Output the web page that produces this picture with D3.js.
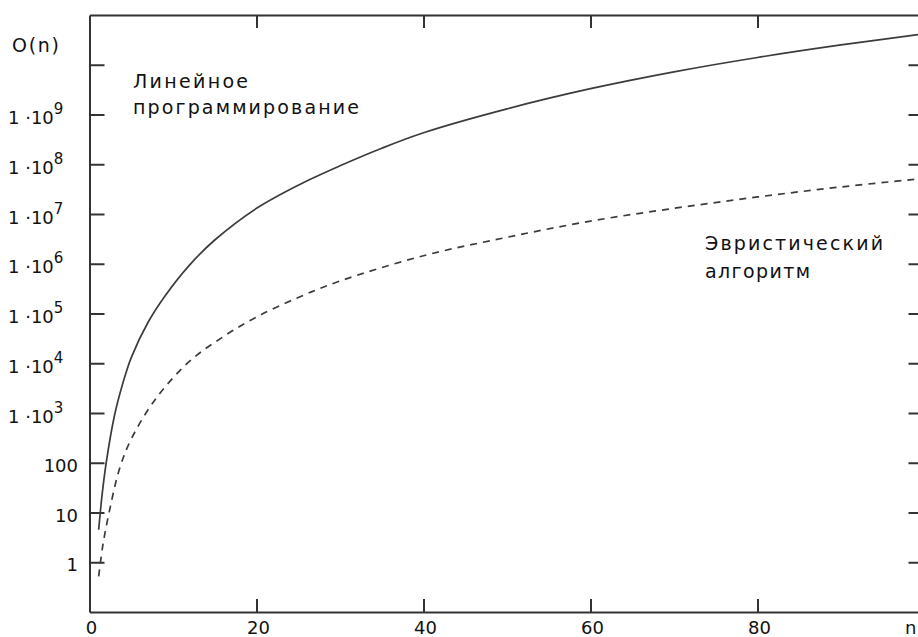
<!DOCTYPE html>
<html>
<head>
<meta charset="utf-8">
<script src="https://cdn.jsdelivr.net/npm/d3@7"></script>
<style>
  body { margin: 0; background: #fff; }
  svg { display: block; }
  .axis path, .axis line { stroke: #333; stroke-width: 2; }
  text { font-family: "DejaVu Sans", sans-serif; fill: #111; }
</style>
</head>
<body>
<div id="chart"></div>
<script>
// values (log scale, so kept as raw values)
const lpN = [1.1, 1.5, 2, 3, 4, 5, 7, 9, 12, 15, 20, 25, 30, 35, 40, 50, 60, 70, 80, 90, 100];
const lpValues = [4.5, 22, 100, 900, 4000, 1.3e4, 6.6e4, 2.2e5, 9.5e5, 3e6, 1.3e7, 3.8e7, 9.3e7,
                  2.1e8, 4.3e8, 1.3e9, 3.3e9, 7.2e9, 1.4e10, 2.5e10, 4.2e10];

const heurN = [1.1, 1.6, 2.4, 3.6, 5, 8, 12, 16, 20, 25, 30, 40, 50, 60, 70, 80, 90, 100];
const heurValues = [0.52, 2.2, 11, 76, 300, 2000, 1.1e4, 3.4e4, 8.5e4, 2.1e5, 4.5e5, 1.45e6,
                    3.4e6, 7.2e6, 1.3e7, 2.2e7, 3.5e7, 5.2e7];

const xTicks = [20, 40, 60, 80];
const xTickLabels = ["0", "20", "40", "60", "80"];
const xLabelValues = [0, 20, 40, 60, 80];
const yTicks = [1, 10, 100, 1e3, 1e4, 1e5, 1e6, 1e7, 1e8, 1e9, 1e10];
const yPlainLabels = ["1", "10", "100"];
const yPlainValues = [1, 10, 100];
const yExpValues = [1e3, 1e4, 1e5, 1e6, 1e7, 1e8, 1e9];
const yExponents = ["3", "4", "5", "6", "7", "8", "9"];

const width = 918, height = 637;

const svg = d3.select("#chart").append("svg")
  .attr("width", width)
  .attr("height", height);

const x = d3.scaleLinear().domain([0, 100]).range([89.5, 924.5]);
const y = d3.scaleLog().domain([0.1, 1e11]).range([612, 15]);

svg.append("defs").append("clipPath").attr("id", "plot")
  .append("rect")
  .attr("x", x(0)).attr("y", y(1e11))
  .attr("width", x(100) - x(0)).attr("height", y(0.1) - y(1e11));

// frame with inward ticks on all four sides
svg.append("g").attr("class", "axis")
  .attr("transform", "translate(" + x(0) + ",0)")
  .call(d3.axisLeft(y).tickValues(yTicks).tickSize(-15).tickSizeOuter(0).tickFormat(""));
svg.append("g").attr("class", "axis")
  .attr("transform", "translate(" + x(100) + ",0)")
  .call(d3.axisRight(y).tickValues(yTicks).tickSize(-16).tickSizeOuter(0).tickFormat(""));
svg.append("g").attr("class", "axis")
  .attr("transform", "translate(0," + y(0.1) + ")")
  .call(d3.axisBottom(x).tickValues(xTicks).tickSize(-13).tickSizeOuter(0).tickFormat(""));
svg.append("g").attr("class", "axis")
  .attr("transform", "translate(0," + y(1e11) + ")")
  .call(d3.axisTop(x).tickValues(xTicks).tickSize(-13).tickSizeOuter(0).tickFormat(""));

// x labels
svg.selectAll(".xlab").data(xLabelValues).join("text")
  .attr("class", "xlab")
  .attr("x", d => x(d) + 2)
  .attr("y", 634)
  .attr("text-anchor", "middle")
  .style("font-size", "18px")
  .text((d, i) => xTickLabels[i]);

svg.append("text")
  .attr("x", 905).attr("y", 634)
  .style("font-size", "18px")
  .text("n");

// y labels
svg.selectAll(".ylab").data(yPlainValues).join("text")
  .attr("class", "ylab")
  .attr("x", 78)
  .attr("y", d => y(d) + 9)
  .attr("text-anchor", "end")
  .style("font-size", "18px")
  .text((d, i) => yPlainLabels[i]);

const expLab = svg.selectAll(".yexp").data(yExpValues).join("text")
  .attr("class", "yexp")
  .attr("x", 8)
  .attr("y", d => y(d) + 9.5)
  .style("font-size", "18px");
expLab.append("tspan").text("1 \u00b710");
expLab.append("tspan")
  .attr("dy", -10)
  .style("font-size", "15px")
  .text((d, i) => yExponents[i]);

svg.append("text")
  .attr("x", 12).attr("y", 52)
  .attr("textLength", 47)
  .attr("lengthAdjust", "spacing")
  .style("font-size", "19px")
  .text("O(n)");

// curves
const line = d3.line()
  .x(d => x(d[0]))
  .y(d => y(d[1]))
  .curve(d3.curveCatmullRom.alpha(0.5));

const plot = svg.append("g").attr("clip-path", "url(#plot)");

plot.append("path")
  .datum(d3.zip(lpN, lpValues))
  .attr("d", line)
  .attr("fill", "none")
  .attr("stroke", "#3c3c3c")
  .attr("stroke-width", 1.7);

plot.append("path")
  .datum(d3.zip(heurN, heurValues))
  .attr("d", line)
  .attr("fill", "none")
  .attr("stroke", "#3c3c3c")
  .attr("stroke-width", 1.7)
  .attr("stroke-dasharray", "7,6");

// curve captions
function caption(tx, ty, len, str) {
  svg.append("text")
    .attr("x", tx).attr("y", ty)
    .attr("textLength", len)
    .attr("lengthAdjust", "spacing")
    .style("font-size", "19px")
    .text(str);
}
caption(133, 88, 115, "Линейное");
caption(133, 114, 226, "программирование");
caption(705, 250, 178, "Эвристический");
caption(705, 278, 105, "алгоритм");
</script>
</body>
</html>
